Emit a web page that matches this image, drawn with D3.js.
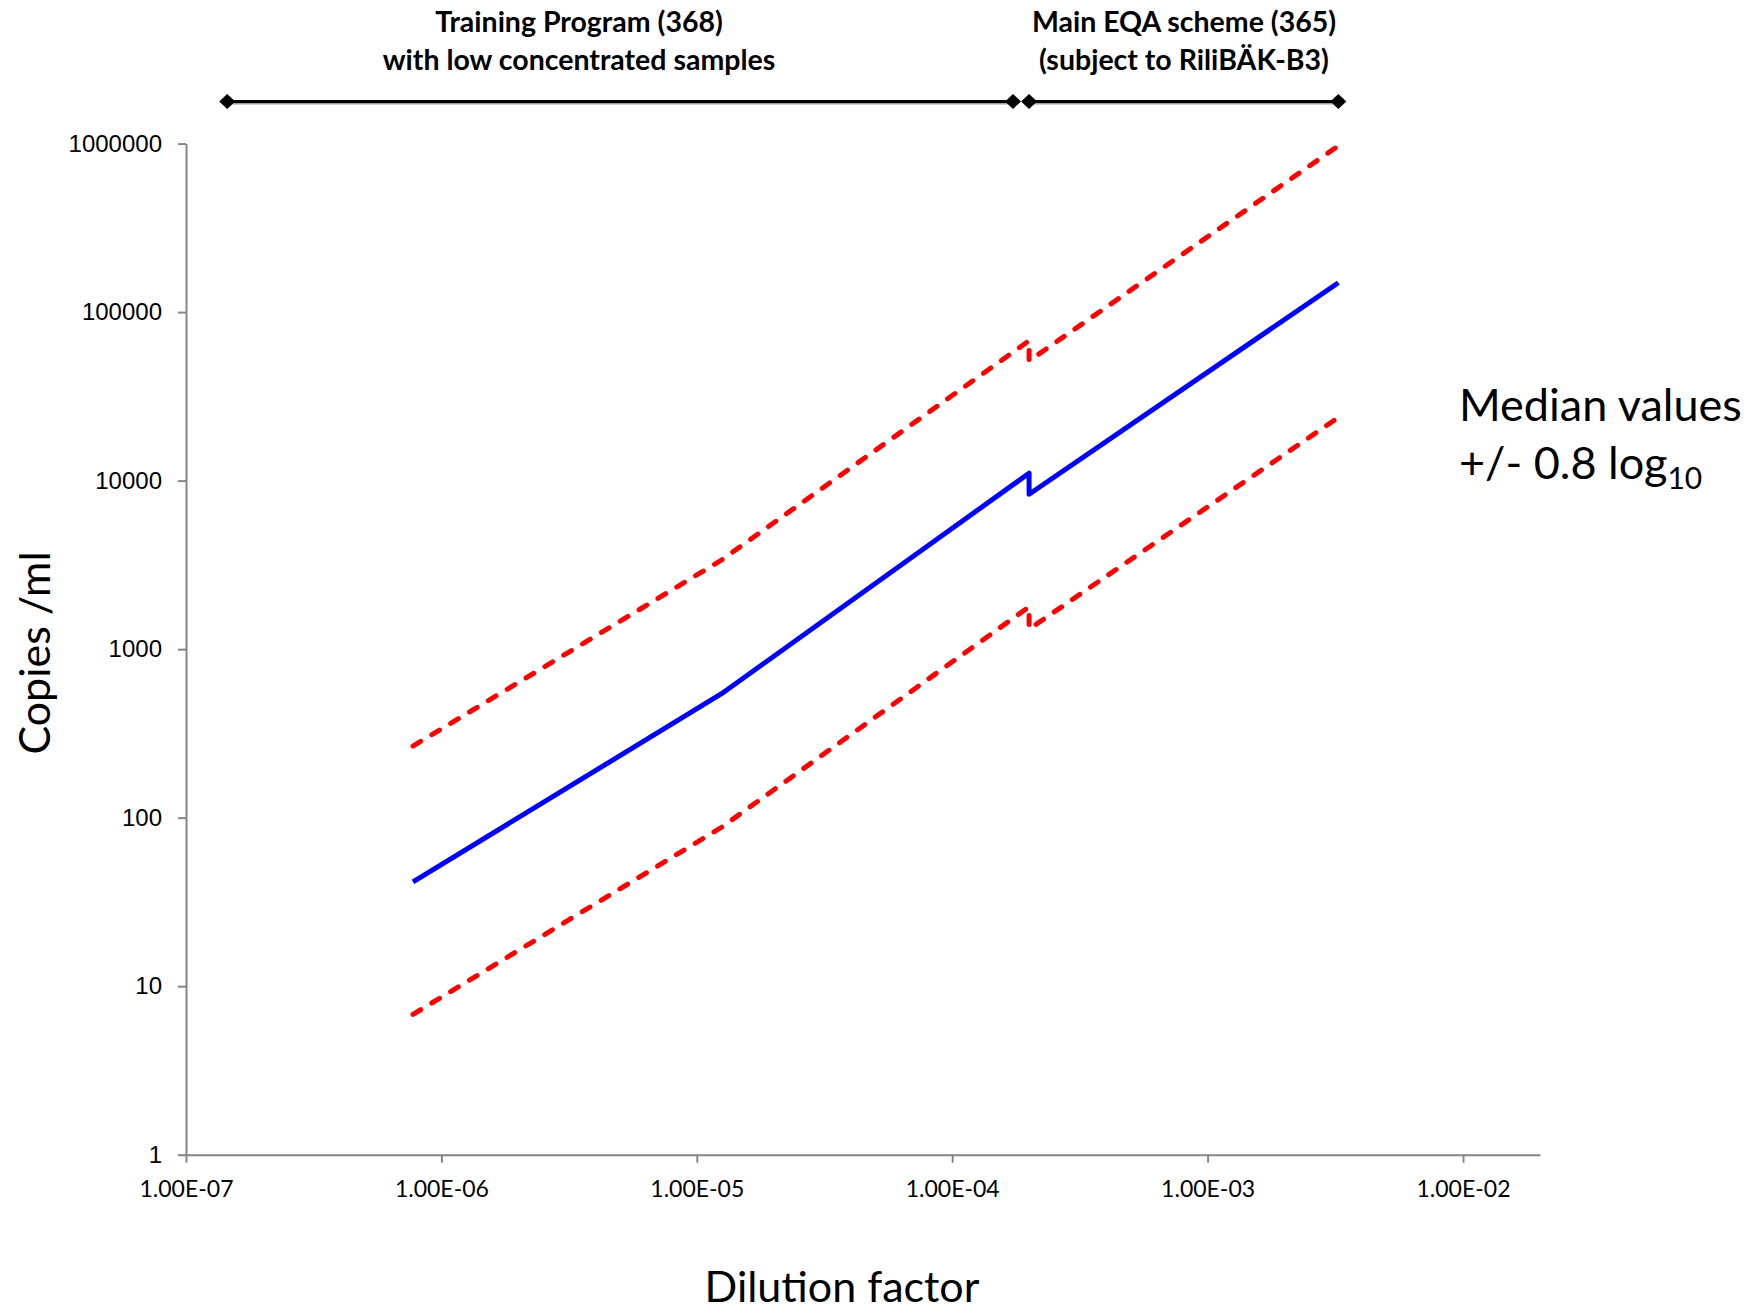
<!DOCTYPE html>
<html>
<head>
<meta charset="utf-8">
<script src="https://cdn.jsdelivr.net/npm/d3@7"></script>
<style>
	body { margin: 0; background: #fff; }
	text { font-family: Lato, "Open Sans", sans-serif; }
</style>
</head>
<body>
<div id="chart"></div>
<script>
// Dilution factor / copies per ml
const dilution = [7.74e-7, 1.25e-5, 2.0e-4, 2.0e-4, 3.25e-3];
const median   = [41.6, 544, 11070, 8300, 149300];
const upper    = [266, 3380, 67700, 51400, 970000];
const lower    = [6.8, 87.7, 1783, 1315, 23700];

// program brackets on top
const programs = ["Training Program (368)", "Main EQA scheme (365)"];
const programSub = ["with low concentrated samples", "(subject to RiliBÄK-B3)"];
const programStart = [1.45e-7, 2.0e-4];
const programEnd   = [1.73e-4, 3.25e-3];

const xTicks = [1e-7, 1e-6, 1e-5, 1e-4, 1e-3, 1e-2];
const yTicks = [1, 10, 100, 1000, 10000, 100000, 1000000];

const W = 1746, H = 1310;

let svg = d3.select("#chart")
	.append("svg")
		.attr("width", W)
		.attr("height", H);

let x = d3.scaleLog()
	.domain([1e-7, 0.02])
	.range([186, 186 + Math.log10(0.02 / 1e-7) * 255.4]);

let y = d3.scaleLog()
	.domain([1, 1e6])
	.range([1154.7, 143.6]);

// axes
let xAxis = svg.append("g")
	.attr("transform", "translate(0," + y(1) + ")")
	.call(d3.axisBottom(x).tickValues(xTicks).tickSize(8).tickSizeOuter(0).tickPadding(18)
		.tickFormat(d => d.toExponential(2).toUpperCase().replace(/E([+-])(\d)$/, "E$10$2")));

let yAxis = svg.append("g")
	.attr("transform", "translate(" + x(1e-7) + ",0)")
	.call(d3.axisLeft(y).tickValues(yTicks).tickSize(8).tickSizeOuter(0).tickPadding(16)
		.tickFormat(d3.format("d")));

svg.selectAll(".domain, .tick line")
	.attr("stroke", "#868686")
	.attr("stroke-width", 2);

xAxis.selectAll("text")
	.attr("font-size", 23)
	.attr("fill", "#000");
yAxis.selectAll("text")
	.style("font-family", "'Liberation Sans', Arial, sans-serif")
	.attr("font-size", 24)
	.attr("fill", "#000");

// lines
let pts = (vals) => dilution.map((d, i) => [d, vals[i]]);
let line = d3.line()
	.x(d => x(d[0]))
	.y(d => y(d[1]));

[upper, lower].forEach(vals => {
	svg.append("path")
		.datum(pts(vals))
		.attr("d", line)
		.attr("fill", "none")
		.attr("stroke", "#ff0000")
		.attr("stroke-width", 5)
		.attr("stroke-dasharray", "9,13")
		.attr("stroke-linecap", "round");
});

svg.append("path")
	.datum(pts(median))
	.attr("d", line)
	.attr("fill", "none")
	.attr("stroke", "#0000ff")
	.attr("stroke-width", 5)
	.attr("stroke-linejoin", "round");

// program brackets
const barY = 101.5;
let diamond = "M0,-7.5L8,0L0,7.5L-8,0Z";

programs.forEach((p, i) => {
	let g = svg.append("g");
	g.append("line")
		.attr("x1", x(programStart[i])).attr("x2", x(programEnd[i]))
		.attr("y1", barY + 1).attr("y2", barY + 1)
		.attr("stroke", "#a0a0a0").attr("stroke-width", 4);
	g.append("line")
		.attr("x1", x(programStart[i])).attr("x2", x(programEnd[i]))
		.attr("y1", barY).attr("y2", barY)
		.attr("stroke", "#000").attr("stroke-width", 3);
	[programStart[i], programEnd[i]].forEach(v => {
		g.append("path")
			.attr("d", diamond)
			.attr("transform", "translate(" + x(v) + "," + barY + ")")
			.attr("fill", "#000");
	});
});

let labelX = [579, 1184];
programs.forEach((p, i) => {
	svg.append("text")
		.attr("x", labelX[i]).attr("y", 32)
		.attr("text-anchor", "middle")
		.attr("font-size", 28.5).attr("font-weight", "bold")
		.text(p);
	svg.append("text")
		.attr("x", labelX[i]).attr("y", 70)
		.attr("text-anchor", "middle")
		.attr("font-size", 28.5).attr("font-weight", "bold")
		.text(programSub[i]);
});

// axis titles
svg.append("text")
	.attr("transform", "translate(50,653) rotate(-90)")
	.attr("text-anchor", "middle")
	.attr("font-size", 43)
	.text("Copies /ml");

svg.append("text")
	.attr("x", 842).attr("y", 1302)
	.attr("text-anchor", "middle")
	.attr("font-size", 43)
	.text("Dilution factor");

// note on the right
svg.append("text")
	.attr("x", 1459).attr("y", 421)
	.attr("font-size", 45)
	.text("Median values");

let note = svg.append("text")
	.attr("x", 1459).attr("y", 479)
	.attr("font-size", 45);
note.append("tspan").text("+/- 0.8 log");
note.append("tspan").attr("font-size", 30).attr("dy", 10).text("10");
</script>
</body>
</html>
